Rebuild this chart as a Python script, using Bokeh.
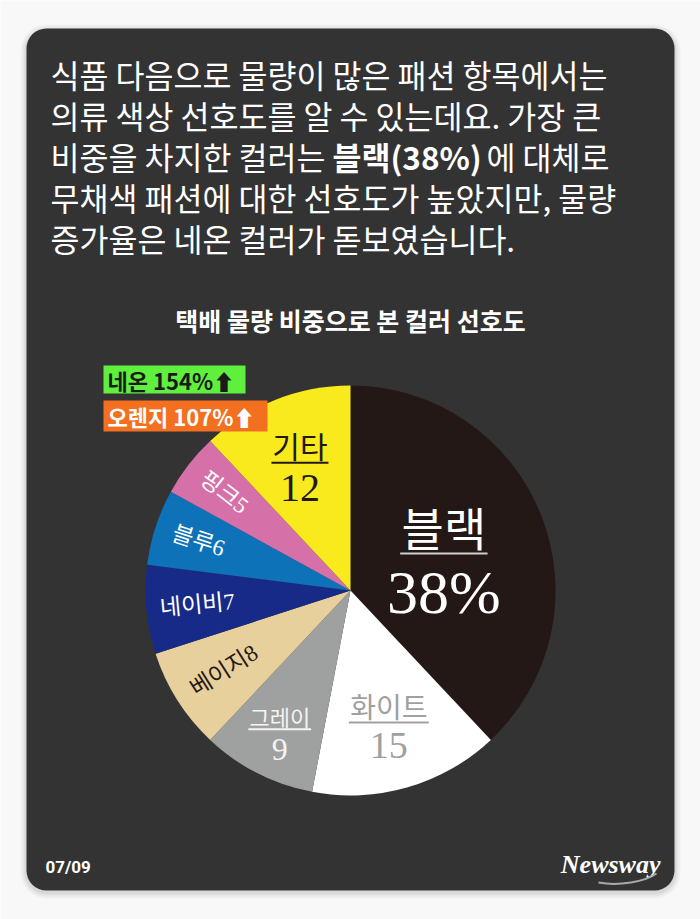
import numpy as np
from bokeh.plotting import figure
from bokeh.models import Range1d
from bokeh.core.properties import value
from bokeh.embed import file_html
from bokeh.resources import INLINE

W, H = 700, 919

# ---------------- data ----------------
color_names = ["블랙", "화이트", "그레이", "베이지", "네이비", "블루", "핑크", "기타"]
shares = [38, 15, 9, 8, 7, 6, 5, 12]
value_labels = ["38%", "15", "9", "8", "7", "6", "5", "12"]
slice_colors = ["#231815", "#ffffff", "#9fa0a0", "#e8d09c", "#172a88", "#0e72b9", "#d571a8", "#f8ea1c"]
label_colors = ["#ffffff", "#9fa0a0", "#f4f4f4", "#231815", "#ffffff", "#ffffff", "#ffffff", "#231815"]
rule_colors = ["#cfcfcf", "#9fa0a0", "#f4f4f4", None, None, None, None, "#231815"]
label_kind = ["stack", "stack", "stack", "inline", "inline", "inline", "inline", "stack"]

intro_lines = [
    "식품 다음으로 물량이 많은 패션 항목에서는",
    "의류 색상 선호도를 알 수 있는데요. 가장 큰",
    None,
    "무채색 패션에 대한 선호도가 높았지만, 물량",
    "증가율은 네온 컬러가 돋보였습니다.",
]
line3_parts = ["비중을 차지한 컬러는 ", "블랙(38%)", "에 대체로"]
chart_title = "택배 물량 비중으로 본 컬러 선호도"
badge_texts = ["네온 154%⬆", "오렌지 107%⬆"]
badge_fill = ["#5ef03c", "#f37021"]
badge_text_color = ["#1a1a1a", "#ffffff"]
page_label = "07/09"
brand = "Newsway"

# ---------------- layout / style ----------------
def Y(sy):
    return H - sy

KR = "Noto Sans CJK KR"
SERIF_KR = "Liberation Serif, Noto Sans CJK KR"

p = figure(width=W, height=H, x_range=Range1d(0, W), y_range=Range1d(0, H),
           output_backend="svg", toolbar_location=None, min_border=0)
p.axis.visible = False
p.grid.visible = False
p.outline_line_color = None
p.background_fill_color = "#f8f8f8"
p.border_fill_color = "#f8f8f8"

# card with soft shadow
for grow, a in [(6, 0.03), (4, 0.04), (2, 0.06)]:
    p.quad(left=26 - grow, right=674 + grow, top=Y(28 - grow + 2), bottom=Y(890 + grow + 2),
           fill_color="#000000", fill_alpha=a, line_color=None, border_radius=20 + grow)
p.quad(left=26, right=674, top=Y(28), bottom=Y(890), fill_color="#333333",
       line_color=None, border_radius=20)

# intro paragraph
FS = "31.5px"
line_y = [73, 114, 155, 196, 237]
for i, t in enumerate(intro_lines):
    if t is None:
        continue
    p.text(x=[50], y=[Y(line_y[i])], text=[t], text_font=value(KR), text_font_size=FS,
           text_color="#ffffff", text_baseline="middle", text_align="left")
part_x = [50, 332, 486]
part_w = ["normal", "bold", "normal"]
for t, xx, fw in zip(line3_parts, part_x, part_w):
    p.text(x=[xx], y=[Y(line_y[2])], text=[t], text_font=value(KR), text_font_size=FS,
           text_font_style=fw, text_color="#ffffff", text_baseline="middle", text_align="left")

# chart title
p.text(x=[350], y=[Y(319)], text=[chart_title], text_font=value(KR), text_font_size="25px",
       text_font_style="bold", text_color="#ffffff", text_align="center", text_baseline="middle")

# pie
cx, cy, R = 350, Y(590), 205
total = float(sum(shares))
cum = np.concatenate([[0], np.cumsum(shares)])
start = np.pi / 2 - 2 * np.pi * cum[:-1] / total
end = np.pi / 2 - 2 * np.pi * cum[1:] / total
p.wedge(x=cx, y=cy, radius=R, start_angle=list(start), end_angle=list(end),
        direction="clock", fill_color=slice_colors, line_color=None)

mid = (start + end) / 2
label_radius = [0.49, 0.67, 0.76, 0.73, 0.75, 0.78, 0.78, 0.67]
name_size = [46, 28, 22, 23, 23, 23, 23, 30]
value_size = [62, 38, 32, 23, 23, 23, 23, 40]

for i in range(len(shares)):
    lx = cx + label_radius[i] * R * np.cos(mid[i])
    ly = cy + label_radius[i] * R * np.sin(mid[i])
    if label_kind[i] == "stack":
        nf, vf = name_size[i], value_size[i]
        w = len(color_names[i]) * nf * 0.95
        p.segment(x0=[lx - w / 2], x1=[lx + w / 2], y0=[ly], y1=[ly],
                  line_color=rule_colors[i], line_width=2)
        p.text(x=[lx], y=[ly + 0.6 * nf], text=[color_names[i]], text_font=value(KR),
               text_font_size=f"{nf}px", text_color=label_colors[i],
               text_align="center", text_baseline="middle")
        p.text(x=[lx], y=[ly - 0.62 * vf], text=[value_labels[i]], text_font=value("Liberation Serif"),
               text_font_size=f"{vf}px", text_color=label_colors[i],
               text_align="center", text_baseline="middle")
    else:
        p.text(x=[lx], y=[ly], text=[color_names[i] + value_labels[i]], text_font=value(SERIF_KR),
               text_font_size=f"{name_size[i]}px", text_color=label_colors[i],
               text_align="center", text_baseline="middle", angle=float(mid[i] + np.pi))

# badges
badge_top = [365, 400]
badge_bottom = [393, 431]
badge_right = [245, 267]
for i in range(2):
    p.quad(left=103, right=badge_right[i], top=Y(badge_top[i]), bottom=Y(badge_bottom[i]),
           fill_color=badge_fill[i], line_color=None)
    p.text(x=[107], y=[Y((badge_top[i] + badge_bottom[i]) / 2)], text=[badge_texts[i]],
           text_font=value("Noto Sans CJK KR, DejaVu Sans"), text_font_size="22px",
           text_font_style="bold", text_color=badge_text_color[i],
           text_align="left", text_baseline="middle")

# footer
p.text(x=[45], y=[Y(866)], text=[page_label], text_font=value("Roboto"), text_font_size="17px",
       text_font_style="bold", text_color="#ffffff", text_align="left", text_baseline="middle")
p.text(x=[660], y=[Y(864)], text=[brand], text_font=value("Liberation Serif"), text_font_size="26px",
       text_font_style="bold italic", text_color="#ffffff", text_align="right", text_baseline="middle")
p.bezier(x0=[598], y0=[Y(882)], x1=[656], y1=[Y(873)], cx0=[618], cy0=[Y(886)],
         cx1=[645], cy1=[Y(881)], line_color="#aaaaaa", line_width=2)

open("out.html", "w").write(file_html(p, INLINE))
